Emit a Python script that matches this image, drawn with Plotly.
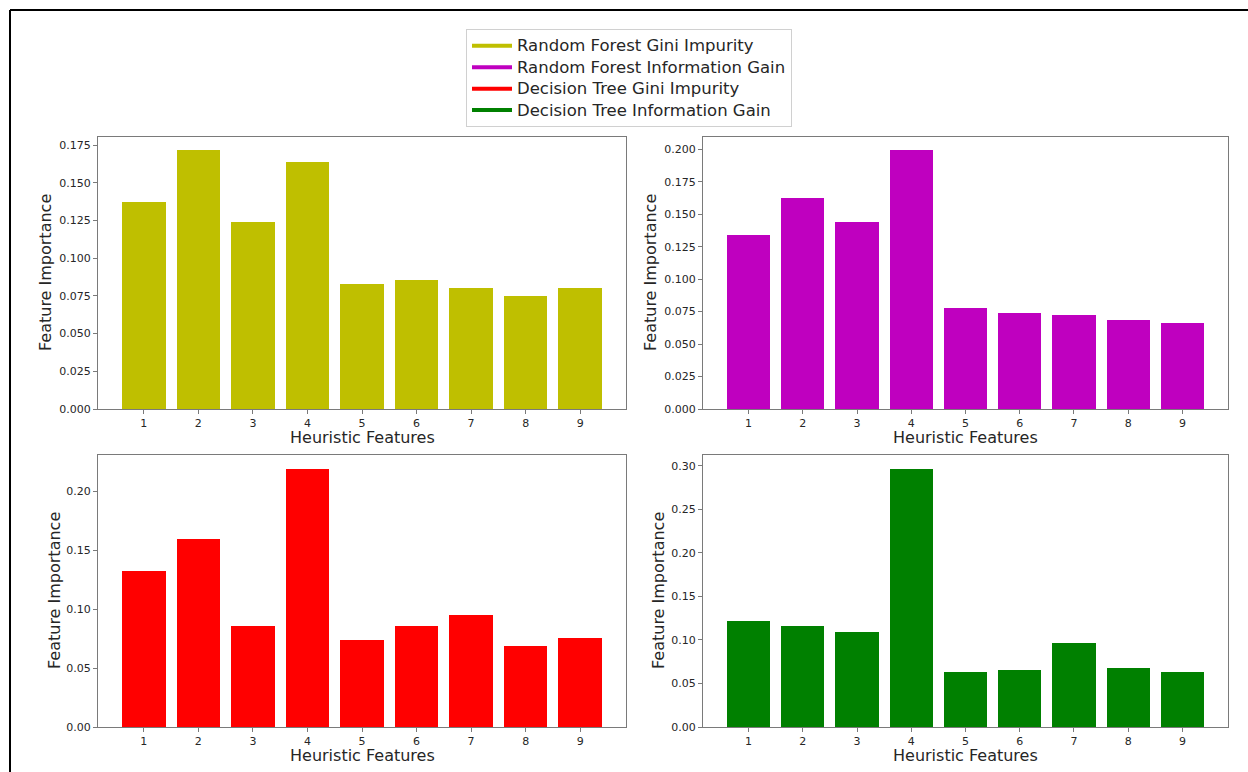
import plotly.graph_objects as go
from plotly.subplots import make_subplots

# Heuristic feature indices
features = [1, 2, 3, 4, 5, 6, 7, 8, 9]

# Feature importances per model / split criterion
rf_gini = [0.1374, 0.1717, 0.1242, 0.1635, 0.0827, 0.0855, 0.0800, 0.0751, 0.0800]
rf_info_gain = [0.1338, 0.1625, 0.1438, 0.1995, 0.0778, 0.0737, 0.0722, 0.0686, 0.0662]
dt_gini = [0.1327, 0.1594, 0.0862, 0.2190, 0.0739, 0.0854, 0.0953, 0.0690, 0.0758]
dt_info_gain = [0.1212, 0.1162, 0.1093, 0.2962, 0.0634, 0.0654, 0.0963, 0.0680, 0.0626]

series_names = [
    "Random Forest Gini Impurity",
    "Random Forest Information Gain",
    "Decision Tree Gini Impurity",
    "Decision Tree Information Gain",
]
series_values = [rf_gini, rf_info_gain, dt_gini, dt_info_gain]
series_colors = ["#bfbf00", "#bf00bf", "#ff0000", "#008000"]

x_title = "Heuristic Features"
y_title = "Feature Importance"

W, H = 1248, 772
FONT = "DejaVu Sans"
AXIS_COLOR = "#7a7a7a"
TEXT_COLOR = "#262626"

fig = make_subplots(rows=2, cols=2)

# panel geometry in pixels: (left, right, top, bottom)
panels = [
    (98, 626, 137, 409),
    (703, 1228, 137, 409),
    (98, 626, 455, 727),
    (703, 1228, 455, 727),
]
y_ranges = [(0, 0.1803), (0, 0.2095), (0, 0.2311), (0, 0.3123)]
y_dticks = [0.025, 0.025, 0.05, 0.05]
y_formats = [".3f", ".3f", ".2f", ".2f"]
# horizontal offset of the y-axis title centre from the axis line
y_title_offsets = [52, 52, 44, 45]

for i, (vals, color) in enumerate(zip(series_values, series_colors)):
    r, c = i // 2 + 1, i % 2 + 1
    fig.add_trace(
        go.Bar(
            x=features, y=vals, width=0.8,
            marker=dict(color=color, line=dict(width=0)),
            showlegend=False, hoverinfo="x+y",
        ),
        row=r, col=c,
    )
    left, right, top, bottom = panels[i]
    ax_common = dict(
        showline=True, linecolor=AXIS_COLOR, linewidth=1.2, mirror=True,
        ticks="outside", ticklen=4, tickcolor=AXIS_COLOR, tickwidth=1,
        showgrid=False, zeroline=False,
        tickfont=dict(family=FONT, size=11, color=TEXT_COLOR),
    )
    fig.update_xaxes(
        domain=[left / W, right / W], range=[0.16, 9.84],
        tickmode="array", tickvals=features, ticktext=[str(f) for f in features],
        automargin=False, row=r, col=c, **ax_common,
    )
    fig.update_yaxes(
        domain=[1 - bottom / H, 1 - top / H], range=list(y_ranges[i]),
        dtick=y_dticks[i], tick0=0, tickformat=y_formats[i],
        automargin=False, row=r, col=c, **ax_common,
    )
    # axis titles
    fig.add_annotation(
        text=x_title, xref="paper", yref="paper",
        x=(left + right) / 2 / W, y=1 - (bottom + 28) / H,
        xanchor="center", yanchor="middle", showarrow=False,
        font=dict(family=FONT, size=16, color=TEXT_COLOR),
    )
    fig.add_annotation(
        text=y_title, xref="paper", yref="paper",
        x=(left - y_title_offsets[i]) / W, y=1 - (top + bottom) / 2 / H,
        xanchor="center", yanchor="middle", showarrow=False, textangle=-90,
        font=dict(family=FONT, size=16, color=TEXT_COLOR),
    )

# legend entries shown as line swatches
for name, color in zip(series_names, series_colors):
    fig.add_trace(
        go.Scatter(x=[None], y=[None], mode="lines",
                   name=f'<span style="font-size:16.5px">{name}</span>',
                   line=dict(color=color, width=4), showlegend=True),
        row=1, col=1,
    )

# outer frame lines
fig.add_shape(type="line", xref="paper", yref="paper",
              x0=10 / W, x1=1.01, y0=1 - 10 / H, y1=1 - 10 / H,
              line=dict(color="black", width=2))
fig.add_shape(type="line", xref="paper", yref="paper",
              x0=10 / W, x1=10 / W, y0=1 - 10 / H, y1=-0.01,
              line=dict(color="black", width=2))

fig.update_layout(
    width=W, height=H,
    margin=dict(l=0, r=0, t=0, b=0),
    paper_bgcolor="white", plot_bgcolor="white",
    font=dict(family=FONT, color=TEXT_COLOR),
    bargap=0,
    legend=dict(
        x=629 / W, y=1 - 29 / H, xanchor="center", yanchor="top",
        bgcolor="white", bordercolor="#d0d0d0", borderwidth=1,
        font=dict(family=FONT, size=14.2, color=TEXT_COLOR),
        tracegroupgap=0, itemwidth=40,
    ),
)

fig.write_html("out.html")
